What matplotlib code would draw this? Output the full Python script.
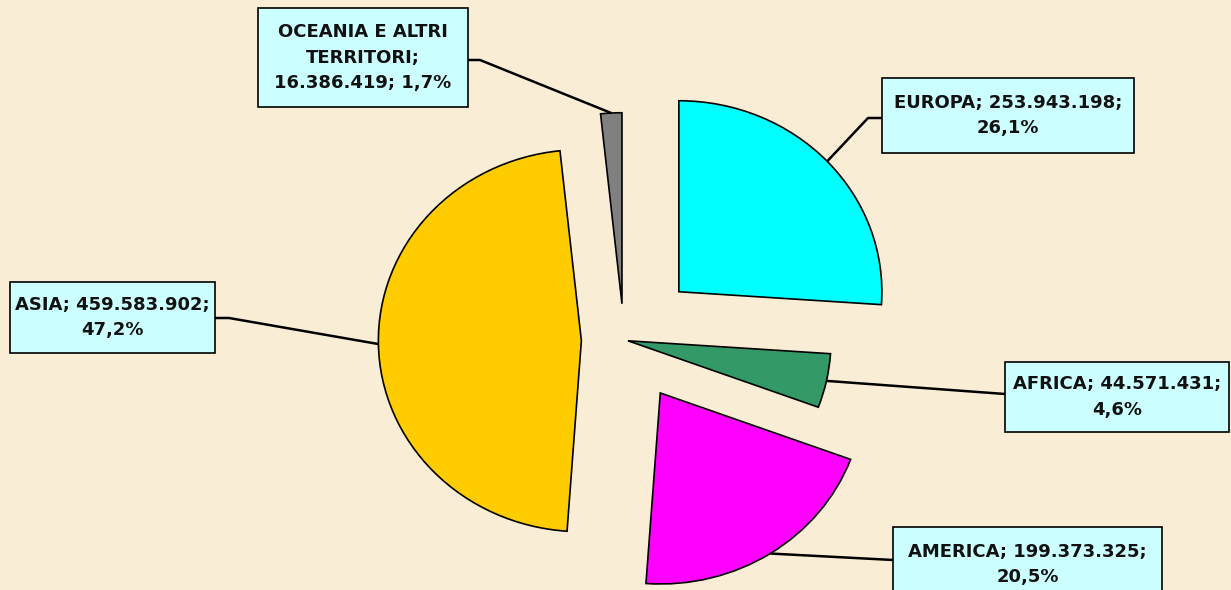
import numpy as np
import matplotlib.pyplot as plt
from matplotlib.patches import Rectangle

# data
regions = ['EUROPA', 'AFRICA', 'AMERICA', 'ASIA', 'OCEANIA E ALTRI\nTERRITORI']
population = [253943198, 44571431, 199373325, 459583902, 16386419]
colors = ['#00FFFF', '#339966', '#FF00FF', '#FFCC00', '#808080']

# layout (pixels of the 1231x590 image)
explode = [0.37, 0.02, 0.33, 0.21, 0.19]
center_px = (624, 340)
rx_px, ry_px = 203, 191
boxes = [(882, 78, 1134, 153),
         (1005, 362, 1229, 432),
         (893, 527, 1162, 602),
         (10, 282, 215, 353),
         (258, 8, 468, 107)]
attach_y = [118, 394, 560, 318, 60]
elbow_len = [14, 0, 0, 14, 12]
W, H = 1231, 590
bg = '#FAEDD6'


def px(x, y):
    return (x - center_px[0]) / rx_px, (center_px[1] - y) / ry_px


fig = plt.figure(figsize=(W / 100, H / 100), dpi=100)
fig.patch.set_facecolor(bg)
ax = fig.add_axes([0, 0, 1, 1])
ax.set_facecolor(bg)

wedges, _ = ax.pie(population, colors=colors, explode=explode, startangle=90,
                   counterclock=False, radius=1.0,
                   wedgeprops=dict(edgecolor='black', linewidth=1.2))
ax.set_aspect('auto')
x0, y0 = px(0, H)
x1, y1 = px(W, 0)
ax.set_xlim(x0, x1)
ax.set_ylim(y0, y1)
ax.axis('off')

total = sum(population)
for i, (name, val) in enumerate(zip(regions, population)):
    pct = f"{100 * val / total:.1f}%".replace('.', ',')
    num = f"{val:,}".replace(',', '.')
    if '\n' in name:
        label = f"{name};\n{num}; {pct}"
    else:
        label = f"{name}; {num};\n{pct}"

    # leader line from the middle of the slice's arc
    w = wedges[i]
    theta = np.deg2rad((w.theta1 + w.theta2) / 2)
    e = explode[i]
    arc_pt = ((1 + e) * np.cos(theta), (1 + e) * np.sin(theta))

    bx0, by0, bx1, by1 = boxes[i]
    ya = attach_y[i]
    if bx0 > center_px[0]:
        edge = px(bx0, ya)
        elbow = px(bx0 - elbow_len[i], ya)
    else:
        edge = px(bx1, ya)
        elbow = px(bx1 + elbow_len[i], ya)
    ax.plot([arc_pt[0], elbow[0], edge[0]], [arc_pt[1], elbow[1], edge[1]],
            color='black', lw=1.8, solid_capstyle='butt', zorder=1)

    a = px(bx0, by1)
    b = px(bx1, by0)
    ax.add_patch(Rectangle(a, b[0] - a[0], b[1] - a[1], facecolor='#CCFFFF',
                           edgecolor='black', linewidth=1.2, zorder=3))
    c = px((bx0 + bx1) / 2, (by0 + by1) / 2)
    ax.text(c[0], c[1], label, ha='center', va='center', fontsize=13,
            fontweight='bold', family='DejaVu Sans', linespacing=1.55,
            color='#111111', zorder=4)

fig.savefig('out.png', dpi=100, facecolor=fig.get_facecolor())
